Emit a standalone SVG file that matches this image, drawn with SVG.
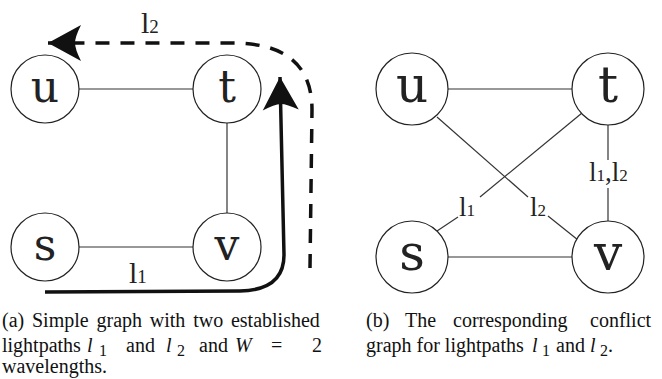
<svg xmlns="http://www.w3.org/2000/svg" width="662" height="379" viewBox="0 0 662 379">
<style>
.node{fill:#fff;stroke:#222;stroke-width:1.2}
.nl{font-family:"DejaVu Serif",serif;fill:#222;text-anchor:middle}
.edge{stroke:#333;stroke-width:1.2;fill:none}
.lbl{font-family:"Liberation Serif",serif;fill:#222}
.cap{font-family:"Liberation Serif","Times New Roman",serif;font-size:20px;fill:#111}
.it{font-style:italic}
.sub{font-size:16px}
</style>
<defs>
<marker id="ah" viewBox="0 0 40 40" refX="36" refY="20" markerWidth="40" markerHeight="40" markerUnits="userSpaceOnUse" orient="auto">
<path d="M36,20 L3,2 Q9,14 9,20 Q9,26 3,38 Z" fill="#111"/>
</marker>
</defs>
<g id="connectors">
<line class="edge" x1="79" y1="89" x2="193" y2="89"/>
<line class="edge" x1="227" y1="123" x2="227" y2="213"/>
<line class="edge" x1="79" y1="247" x2="193" y2="247"/>
<path d="M45,292 L240,291 Q284,290 284,255 L280,77" fill="none" stroke="#111" stroke-width="3.5" marker-end="url(#ah)"/>
<path d="M310,268 L312,110 C312,62 282,43 232,43 L48,43" fill="none" stroke="#111" stroke-width="3.5" stroke-dasharray="14 11" marker-end="url(#ah)"/>
<line class="edge" x1="448" y1="89" x2="572" y2="89"/>
<line class="edge" x1="448" y1="257" x2="572" y2="257"/>
<line class="edge" x1="608" y1="125" x2="608" y2="160"/>
<line class="edge" x1="608" y1="188" x2="608" y2="221"/>
<line class="edge" x1="437" y1="117" x2="528" y2="197"/>
<line class="edge" x1="548" y1="216" x2="578" y2="240"/>
<line class="edge" x1="582" y1="113" x2="480" y2="197"/>
<line class="edge" x1="458" y1="217" x2="437" y2="231"/>
</g>
<g id="left-u"><circle class="node" cx="45" cy="89" r="34"/><text class="nl" x="45" y="102" font-size="44">u</text></g>
<g id="left-t"><circle class="node" cx="227" cy="89" r="34"/><text class="nl" x="227" y="102" font-size="44">t</text></g>
<g id="left-s"><circle class="node" cx="45" cy="247" r="34"/><text class="nl" x="45" y="260" font-size="44">s</text></g>
<g id="left-v"><circle class="node" cx="227" cy="247" r="34"/><text class="nl" x="227" y="260" font-size="44">v</text></g>
<g id="right-u"><circle class="node" cx="412" cy="89" r="36"/><text class="nl" x="412" y="102" font-size="50">u</text></g>
<g id="right-t"><circle class="node" cx="608" cy="89" r="36"/><text class="nl" x="608" y="102" font-size="50">t</text></g>
<g id="right-s"><circle class="node" cx="412" cy="257" r="36"/><text class="nl" x="412" y="270" font-size="50">s</text></g>
<g id="right-v"><circle class="node" cx="608" cy="257" r="36"/><text class="nl" x="608" y="270" font-size="50">v</text></g>
<g id="labels">
<text class="lbl" x="141" y="33" font-size="30">l<tspan font-size="19">2</tspan></text>
<text class="lbl" x="129" y="283" font-size="30">l<tspan font-size="19">1</tspan></text>
<text class="lbl" x="589" y="181" font-size="27">l<tspan font-size="17">1</tspan>,l<tspan font-size="17">2</tspan></text>
<text class="lbl" x="459" y="216" font-size="27">l<tspan font-size="17">1</tspan></text>
<text class="lbl" x="530" y="216" font-size="27">l<tspan font-size="17">2</tspan></text>
</g>
<g id="captions">
<text class="cap" x="2" y="327" word-spacing="2.8">(a) Simple graph with two established</text>
<text class="cap" x="2" y="352">lightpaths</text>
<text class="cap it" x="87" y="352">l</text>
<text class="cap sub" x="99" y="356">1</text>
<text class="cap" x="126" y="352">and</text>
<text class="cap it" x="166" y="352">l</text>
<text class="cap sub" x="177" y="356">2</text>
<text class="cap" x="199" y="352">and</text>
<text class="cap it" x="235" y="352">W</text>
<text class="cap" x="271" y="352">=</text>
<text class="cap" x="312" y="352">2</text>
<text class="cap" x="2" y="373">wavelengths.</text>
<text class="cap" y="327"><tspan x="366">(b)</tspan><tspan x="405">The</tspan><tspan x="453">corresponding</tspan><tspan x="590">conflict</tspan></text>
<text class="cap" x="366" y="352">graph for lightpaths</text>
<text class="cap it" x="532" y="352">l</text>
<text class="cap sub" x="542" y="356">1</text>
<text class="cap" x="556" y="352">and</text>
<text class="cap it" x="590" y="352">l</text>
<text class="cap sub" x="600" y="356">2</text>
<text class="cap" x="608" y="352">.</text>
</g>
</svg>
